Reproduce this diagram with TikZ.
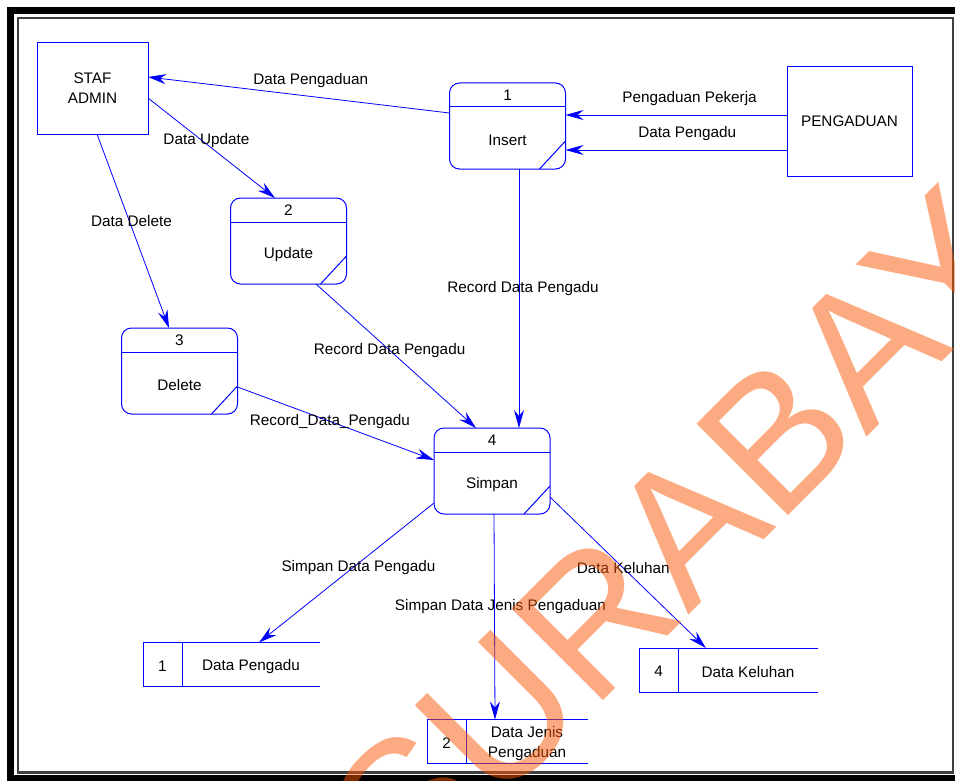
\documentclass[tikz,border=0pt]{standalone}
\usepackage{fontspec}
\setmainfont{Liberation Sans}
\usetikzlibrary{arrows.meta}
\definecolor{wmark}{RGB}{251,87,5}
\begin{document}
\begin{tikzpicture}[x=1pt,y=-1pt]
  \tikzset{proc/.style={draw=blue,line width=1pt,rounded corners=10pt,minimum width=\pw,minimum height=\ph,inner sep=0pt,outer sep=0pt},
    ext/.style={draw=blue,line width=1pt,align=center,inner sep=0pt,outer sep=0pt},
    store/.style={minimum height=44pt,inner sep=0pt,outer sep=0pt},
    flow/.style={draw=blue,line width=0.8pt,-{Stealth[length=18pt,width=10pt,inset=6pt]}}}
  \def\pw{116pt}\def\ph{86pt}\def\sep{39pt}\fontsize{15.3}{20}\selectfont
  \useasboundingbox (0,0) rectangle (955,781);
  \fill[white] (0,0) rectangle (955,781);
  %frame
  \draw[line width=7pt] (10.5,10.5) rectangle (961,778.5);
  \draw[line width=2.5pt,black!75] (18,18) rectangle (953,772.5);
  %entities
  \node[ext,minimum width=111pt,minimum height=91pt] at (92.5,88.5) (STAF) {STAF\\ADMIN};
  \node[ext,minimum width=125pt,minimum height=109pt] at (849.5,121.5) (PENGADUAN) {PENGADUAN};
  %processes
  \node[proc] at (507.5,126) (INSERT) {};
  \node[proc] at (288.5,241) (UPDATE) {};
  \node[proc] at (179.5,371) (DELETE) {};
  \node[proc] at (492,471) (SIMPAN) {};
  \foreach \p/\nr/\lab in {INSERT/1/Insert,UPDATE/2/Update,DELETE/3/Delete,SIMPAN/4/Simpan}{
    \path[draw=blue,line width=1pt] (\p.north west)+(0,24) -- +(116,24);
    \path[draw=blue,line width=1pt] ([yshift=28pt]\p.south east) -- ([xshift=-26pt]\p.south east);
    \node at ([yshift=-12pt]\p.north) {\nr};
    \node at ([yshift=29pt]\p.south) {\lab};
  }
  %stores
  \node[store,minimum width=177pt] at (231.5,664.5) (DPENGADU) {};
  \node[store,minimum width=161pt] at (507.5,741.5) (DJENIS) {};
  \node[store,minimum width=179pt] at (728.5,670) (DKELUHAN) {};
  \foreach \s/\nr/\lab in {DPENGADU/1/Data Pengadu,DJENIS/2/{Data Jenis\\Pengaduan},DKELUHAN/4/Data Keluhan}{
    \path[draw=blue,line width=1pt] (\s.north east) -- (\s.north west) -- (\s.south west) -- (\s.south east);
    \path[draw=blue,line width=1pt] ([xshift=\sep]\s.north west) -- ([xshift=\sep]\s.south west);
    \node at ([xshift=19.5pt,yshift=-1.5pt]\s.west) {\nr};
    \node[align=center] at ([xshift=19.5pt,yshift=-2pt]\s.center) {\lab};
  }
  %flows
  \path[flow] ([yshift=13pt]INSERT.west) -- node[pos=0.46,yshift=16pt] {Data Pengaduan} ([yshift=11.5pt]STAF.east);
  \path[flow] ([yshift=6.5pt]PENGADUAN.west) -- node[pos=0.44,yshift=16pt] {Pengaduan Pekerja} ([yshift=11pt]INSERT.east);
  \path[flow] ([yshift=-28.5pt]PENGADUAN.west) -- node[pos=0.45,yshift=16pt] {Data Pengadu} ([yshift=-24pt]INSERT.east);
  \path[flow] ([yshift=-9.5pt]STAF.east) -- node[pos=0.46,yshift=3pt] {Data Update} ([xshift=-13.5pt]UPDATE.north);
  \path[flow] ([xshift=4.5pt]STAF.south) -- node[pos=0.45,xshift=2pt] {Data Delete} ([xshift=-10.5pt]DELETE.north);
  \path[flow] ([xshift=27.5pt]UPDATE.south) -- node[pos=0.46] {Record Data Pengadu} ([xshift=-16pt]SIMPAN.north);
  \path[flow] ([xshift=11.5pt]INSERT.south) -- node[pos=0.46,xshift=4pt] {Record Data Pengadu} ([xshift=27pt]SIMPAN.north);
  \path[flow] ([yshift=-16pt]DELETE.east) -- node[pos=0.47] {Record\_Data\_Pengadu} ([yshift=11pt]SIMPAN.west);
  \path[flow] ([yshift=-32pt]SIMPAN.west) -- node[pos=0.46,xshift=5pt] {Simpan Data Pengadu} (DPENGADU);
  \path[flow] ([xshift=2pt]SIMPAN.south) -- node[pos=0.45,xshift=6pt] {Simpan Data Jenis Pengaduan} ([xshift=-12.5pt]DJENIS.north);
  \path[flow] ([yshift=-26pt]SIMPAN.east) -- node[pos=0.47] {Data Keluhan} (DKELUHAN);
  %watermark
  \node[rotate=45,anchor=base west,inner sep=0pt,text=wmark,opacity=0.5,font=\fontsize{188}{188}\selectfont] at (408,896) (WATERMARK) {SURABAYA};
\end{tikzpicture}
\end{document}
